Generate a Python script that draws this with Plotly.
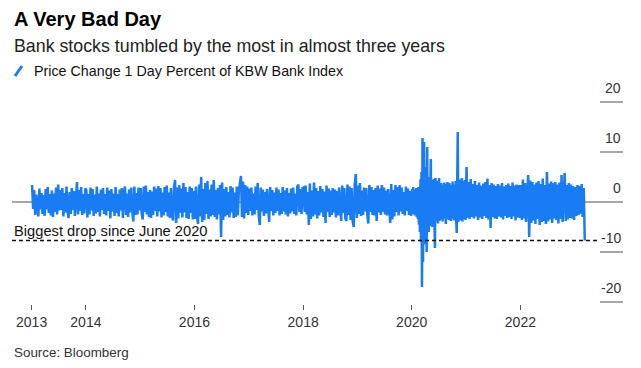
import pandas as pd
import plotly.graph_objects as go

# Weekly-ish readings of the daily % change band (hand-estimated from the chart)
y2013 = [3.4, -1.4, 2.4, -2.6, 1.5, -1.8, -2.9, 2.7, -1.5, 1.8, -2.4, 1.4, -2.8, 2.6, -1.5, 3.0, -2.2, 1.6,
         -2.7, 2.3, -3.0, 1.7, -2.0, 2.9, -2.5, 3.5, -1.7, 2.4, -1.6, 2.8, -2.9, 1.8, -2.1, 3.1, -1.9, -3.2,
         2.0, -2.4, 2.8, -1.6, 2.2, -2.8, 1.7, 4.0, -2.5, 2.4, -1.8, 3.0, -2.6, 1.6, -2.3, 2.7]
y2014 = [2.4, -3.1, 1.6, -2.5, 2.9, -1.7, 2.6, -2.8, 1.5, -2.3, 3.1, -2.0, 1.7, -2.9, 2.5, -1.6, 2.8, -2.4,
         1.6, -2.7, 2.9, -1.8, 2.3, -3.3, 2.6, -1.9, 1.7, -2.8, 3.0, -2.2, 1.6, -2.9, 2.5, -1.7, 2.8, -3.2,
         1.8, 3.1, -2.6, 1.7, -3.0, 2.5, -2.1, 2.9, -1.8, -3.9, 3.1, -2.6, 1.8, -2.5, 2.9, -1.7]
y2015 = [2.8, -2.2, -3.5, 3.1, -2.0, 3.3, -2.5, 2.0, -3.0, 2.4, -3.2, 2.1, -2.6, 3.1, -1.8, 2.7, -2.9, 3.2,
         -1.9, 2.8, -3.1, 1.9, -2.7, 3.0, -2.0, 3.3, -2.9, 1.9, -3.2, 2.8, -2.1, -3.7, 3.0, 4.4, -4.2, 2.9,
         -3.3, 3.4, -2.2, 2.7, -3.1, 3.8, -2.1, 3.0, -3.2, 2.0, -3.4, 3.1, -2.2, 2.8, -3.5, 2.2]
y2016 = [-3.4, 3.1, -3.0, -4.4, 3.5, -2.9, 5.0, -4.0, 2.6, -3.6, 3.8, -2.4, 4.2, -3.4, 2.5, -2.9, 3.5, -2.6,
         4.4, -3.0, 2.4, -3.5, 2.8, -2.5, 3.4, -7.0, 3.9, -3.6, 2.6, -2.9, 3.0, -2.6, 2.0, -3.1, 3.2, -2.1,
         2.9, -3.2, 1.9, -3.0, 3.1, -2.7, 2.2, 3.8, 5.2, -3.0, 4.1, -3.3, 3.4, -2.2, 3.1, -2.6]
y2017 = [2.7, -1.8, 2.9, -2.7, 1.7, -2.5, 3.1, -1.6, 3.8, -2.6, -4.6, 2.9, -1.9, 2.5, -2.8, 2.0, -2.3, 2.6,
         -1.9, -4.0, 3.0, -1.8, 2.4, -2.7, 1.9, -2.2, 2.9, -1.8, 2.5, -2.7, 1.8, -2.4, 3.0, -1.9, 2.3, -2.5,
         2.8, -2.9, 1.8, -2.3, 2.7, -1.9, 2.9, -2.4, 1.7, -2.7, 3.1, 3.5, -2.0, 2.6, -2.4, 2.8]
y2018 = [2.9, -2.0, 3.3, -2.5, 2.0, -4.6, 3.7, -3.4, 2.3, -2.9, 3.9, -2.5, 2.8, -3.3, 2.2, -2.7, 3.2, -2.1,
         2.6, -3.0, 2.1, -4.2, 3.3, -2.0, 2.7, -3.0, 2.3, -2.6, 2.8, -2.1, 2.5, -3.1, 2.2, -2.7, 2.9, -2.3,
         -3.8, 3.3, -2.2, 2.8, -3.3, -3.8, 3.5, -2.6, 3.1, -3.6, 2.8, -3.8, -5.0, 3.5, 5.6, -3.2]
y2019 = [3.3, -2.4, 3.8, -2.8, 2.3, -2.6, 2.9, -1.9, 2.8, -2.5, -4.3, 3.4, -2.0, 3.0, -2.6, 2.4, -2.7, 2.8,
         -3.8, 3.3, -2.1, 2.7, -2.6, 3.4, -2.0, 2.9, -2.5, 2.3, -2.7, 2.6, -2.2, -4.2, 3.6, -3.5, 2.4, -2.9,
         3.4, -2.0, 3.0, -2.7, 3.4, -1.9, 2.9, -2.4, 2.0, -2.7, 3.1, -1.8, 2.7, -2.6, 2.2, -2.8]
y2020 = [2.6, -2.4, 3.0, -2.2, 2.5, -2.7, 2.3, -2.5, 2.8, -3.0, 2.4, -3.4, 3.0,
         -4.5, 2.8, -6.0, 4.5, -8.0, 6.0,
         -17.0, 12.8, -12.0, 9.0, 12.0, -8.5, 7.0, -6.5, 5.5, -10.0, 11.0,
         -5.5, 5.0, -6.0, 4.8, -4.8, 5.2, 8.6, -4.5, 4.4, -5.0,
         4.2, -4.4, 4.6, -4.0, -9.2, 4.8, -3.9, 4.2, -3.7, 3.9,
         -4.3, 3.6, 4.8, -3.8, 3.4, -3.5, 3.8, -3.1, 3.5, -3.9,
         3.3, -3.3, 3.9, -3.0, 3.6, -4.4, 3.4, -3.2, 4.0, -3.4,
         3.2, -3.6, 3.8, -2.9, 3.4, -3.8, 3.1, -3.3, 4.1, -3.1,
         3.5, -3.7, 3.3, -3.3, 4.2, -3.5, -6.2, 4.3, 14.0, -4.0,
         4.0, -3.3, 4.5, -3.7, 3.7, -3.2, 4.8, -3.9, 3.6, -3.4,
         4.2, -3.3, 4.4, -3.6]
y2021 = [7.0, -3.2, 4.0, -3.4, 4.6, -3.0, 3.6, -3.3, 4.2, -2.9, 3.4, -3.6, 3.9, -3.1, 3.3, -3.4, 3.7, -2.8,
         4.0, -3.2, 4.7, -3.5, 3.4, -5.2, 3.8, -3.0, 3.5, -3.3, 3.2, -3.4, 3.6, -2.9, 3.3, -3.1, 3.8, -3.5,
         3.1, -2.8, 3.4, -3.2, 3.7, -3.0, 3.2, -3.4, 3.9, -2.9, 3.3, -3.7, 3.5, -3.1, 3.4, -3.2]
y2022 = [3.4, -3.6, 4.5, -3.3, 3.8, -4.0, 3.2, 5.4, -7.0, 4.3, -4.2, 4.0, -3.7, 3.5, -4.4, 3.9, -3.4, 4.2,
         -4.6, 3.6, -4.0, 4.7, -3.8, 3.4, -4.4, 6.0, -3.9, 3.7, -3.5, 4.1, -4.2, 3.8, -3.3, 4.0, -3.6, 3.5,
         -4.3, 3.9, -3.4, 5.4, -4.0, 3.6, 5.8, -3.8, 3.4, -3.5, 3.8, -3.2, 3.5, -3.3, 3.2, -3.6]
y2023 = [3.0, -2.8, 3.4, -2.6, 3.2, -2.4, 3.6, -3.0, 2.8, -7.7]

year_values = {2013: y2013, 2014: y2014, 2015: y2015, 2016: y2016, 2017: y2017, 2018: y2018,
               2019: y2019, 2020: y2020, 2021: y2021, 2022: y2022}

tick_years = ["2013", "2014", "2016", "2018", "2020", "2022"]
y_ticks = [20, 10, 0, -10, -20]
drop_level = -7.7

dates, values = [], []
for yr, vals in year_values.items():
    dates += list(pd.date_range(f"{yr}-01-04", f"{yr}-12-28", periods=len(vals)))
    values += vals
dates += list(pd.date_range("2023-01-06", "2023-03-10", periods=len(y2023)))
values += y2023

BLUE = "#1a7cf4"
FONT = "Liberation Sans, Arial, sans-serif"

fig = go.Figure()
fig.add_trace(go.Scatter(x=dates, y=values, mode="lines",
                         line=dict(color=BLUE, width=2.5), hoverinfo="skip", showlegend=False))

# page body has an 8px margin: figure is 633x360 drawn at (8,8)
OFF = 8
W, H = 641 - OFF, 368 - OFF
PL, PR, PT, PB = 12, 623, 84, 304  # plot area in screenshot pixels
L, R, T, B = PL - OFF, W - (PR - OFF), PT - OFF, H - (PB - OFF)

def px(x):
    return (x - PL) / (PR - PL)

def py(y):
    return (PB - y) / (PB - PT)

shapes = [
    dict(type="line", xref="paper", yref="y", x0=0, x1=1, y0=0, y1=0,
         line=dict(color="#8a8a8a", width=1.5), layer="below"),
    dict(type="line", xref="paper", yref="y", x0=0, x1=px(600), y0=drop_level, y1=drop_level,
         line=dict(color="#111", width=1.5, dash="4px,3px"), layer="above"),
    dict(type="line", xref="paper", yref="paper", x0=px(15), x1=px(22), y0=py(76), y1=py(66),
         line=dict(color=BLUE, width=3)),
]
for v in y_ticks:
    if v != 0:
        shapes.append(dict(type="line", xref="paper", yref="y", x0=px(600), x1=1, y0=v, y1=v,
                           line=dict(color="#8a8a8a", width=1.5)))

annotations = [
    dict(text="<b>A Very Bad Day</b>", xref="paper", yref="paper", x=0, y=py(19),
         xanchor="left", yanchor="middle", showarrow=False,
         font=dict(family=FONT, size=20, color="#000")),
    dict(text="Bank stocks tumbled by the most in almost three years", xref="paper", yref="paper",
         x=0, y=py(46), xanchor="left", yanchor="middle", showarrow=False,
         font=dict(family=FONT, size=17.8, color="#222")),
    dict(text="Price Change 1 Day Percent of KBW Bank Index", xref="paper", yref="paper",
         x=px(32), y=py(71), xanchor="left", yanchor="middle", showarrow=False,
         font=dict(family=FONT, size=14.3, color="#111")),
    dict(text="Biggest drop since June 2020", xref="paper", yref="y", x=0, y=drop_level,
         yshift=10, xanchor="left", yanchor="middle", showarrow=False,
         font=dict(family=FONT, size=14.7, color="#111")),
    dict(text="Source: Bloomberg", xref="paper", yref="paper", x=0, y=py(352),
         xanchor="left", yanchor="middle", showarrow=False,
         font=dict(family=FONT, size=13.4, color="#333")),
]
for v in y_ticks:
    annotations.append(dict(text=str(v), xref="paper", yref="y", x=1, y=v, yshift=14,
                            xanchor="right", yanchor="middle", showarrow=False,
                            font=dict(family=FONT, size=14, color="#333")))

fig.update_layout(
    width=W, height=H, margin=dict(l=L, r=R, t=T, b=B),
    paper_bgcolor="white", plot_bgcolor="white",
    shapes=shapes, annotations=annotations,
    xaxis=dict(type="date", range=["2012-08-22", "2023-11-22"],
               tickvals=[f"{y}-01-01" for y in tick_years], ticktext=tick_years,
               ticks="outside", ticklen=5, tickwidth=1, tickcolor="#555",
               showgrid=False, zeroline=False, showline=False,
               tickfont=dict(family=FONT, size=14, color="#333")),
    yaxis=dict(range=[-20.4, 23.6], showticklabels=False, showgrid=False, zeroline=False,
               showline=False, ticks=""),
)

fig.write_html("out.html")
